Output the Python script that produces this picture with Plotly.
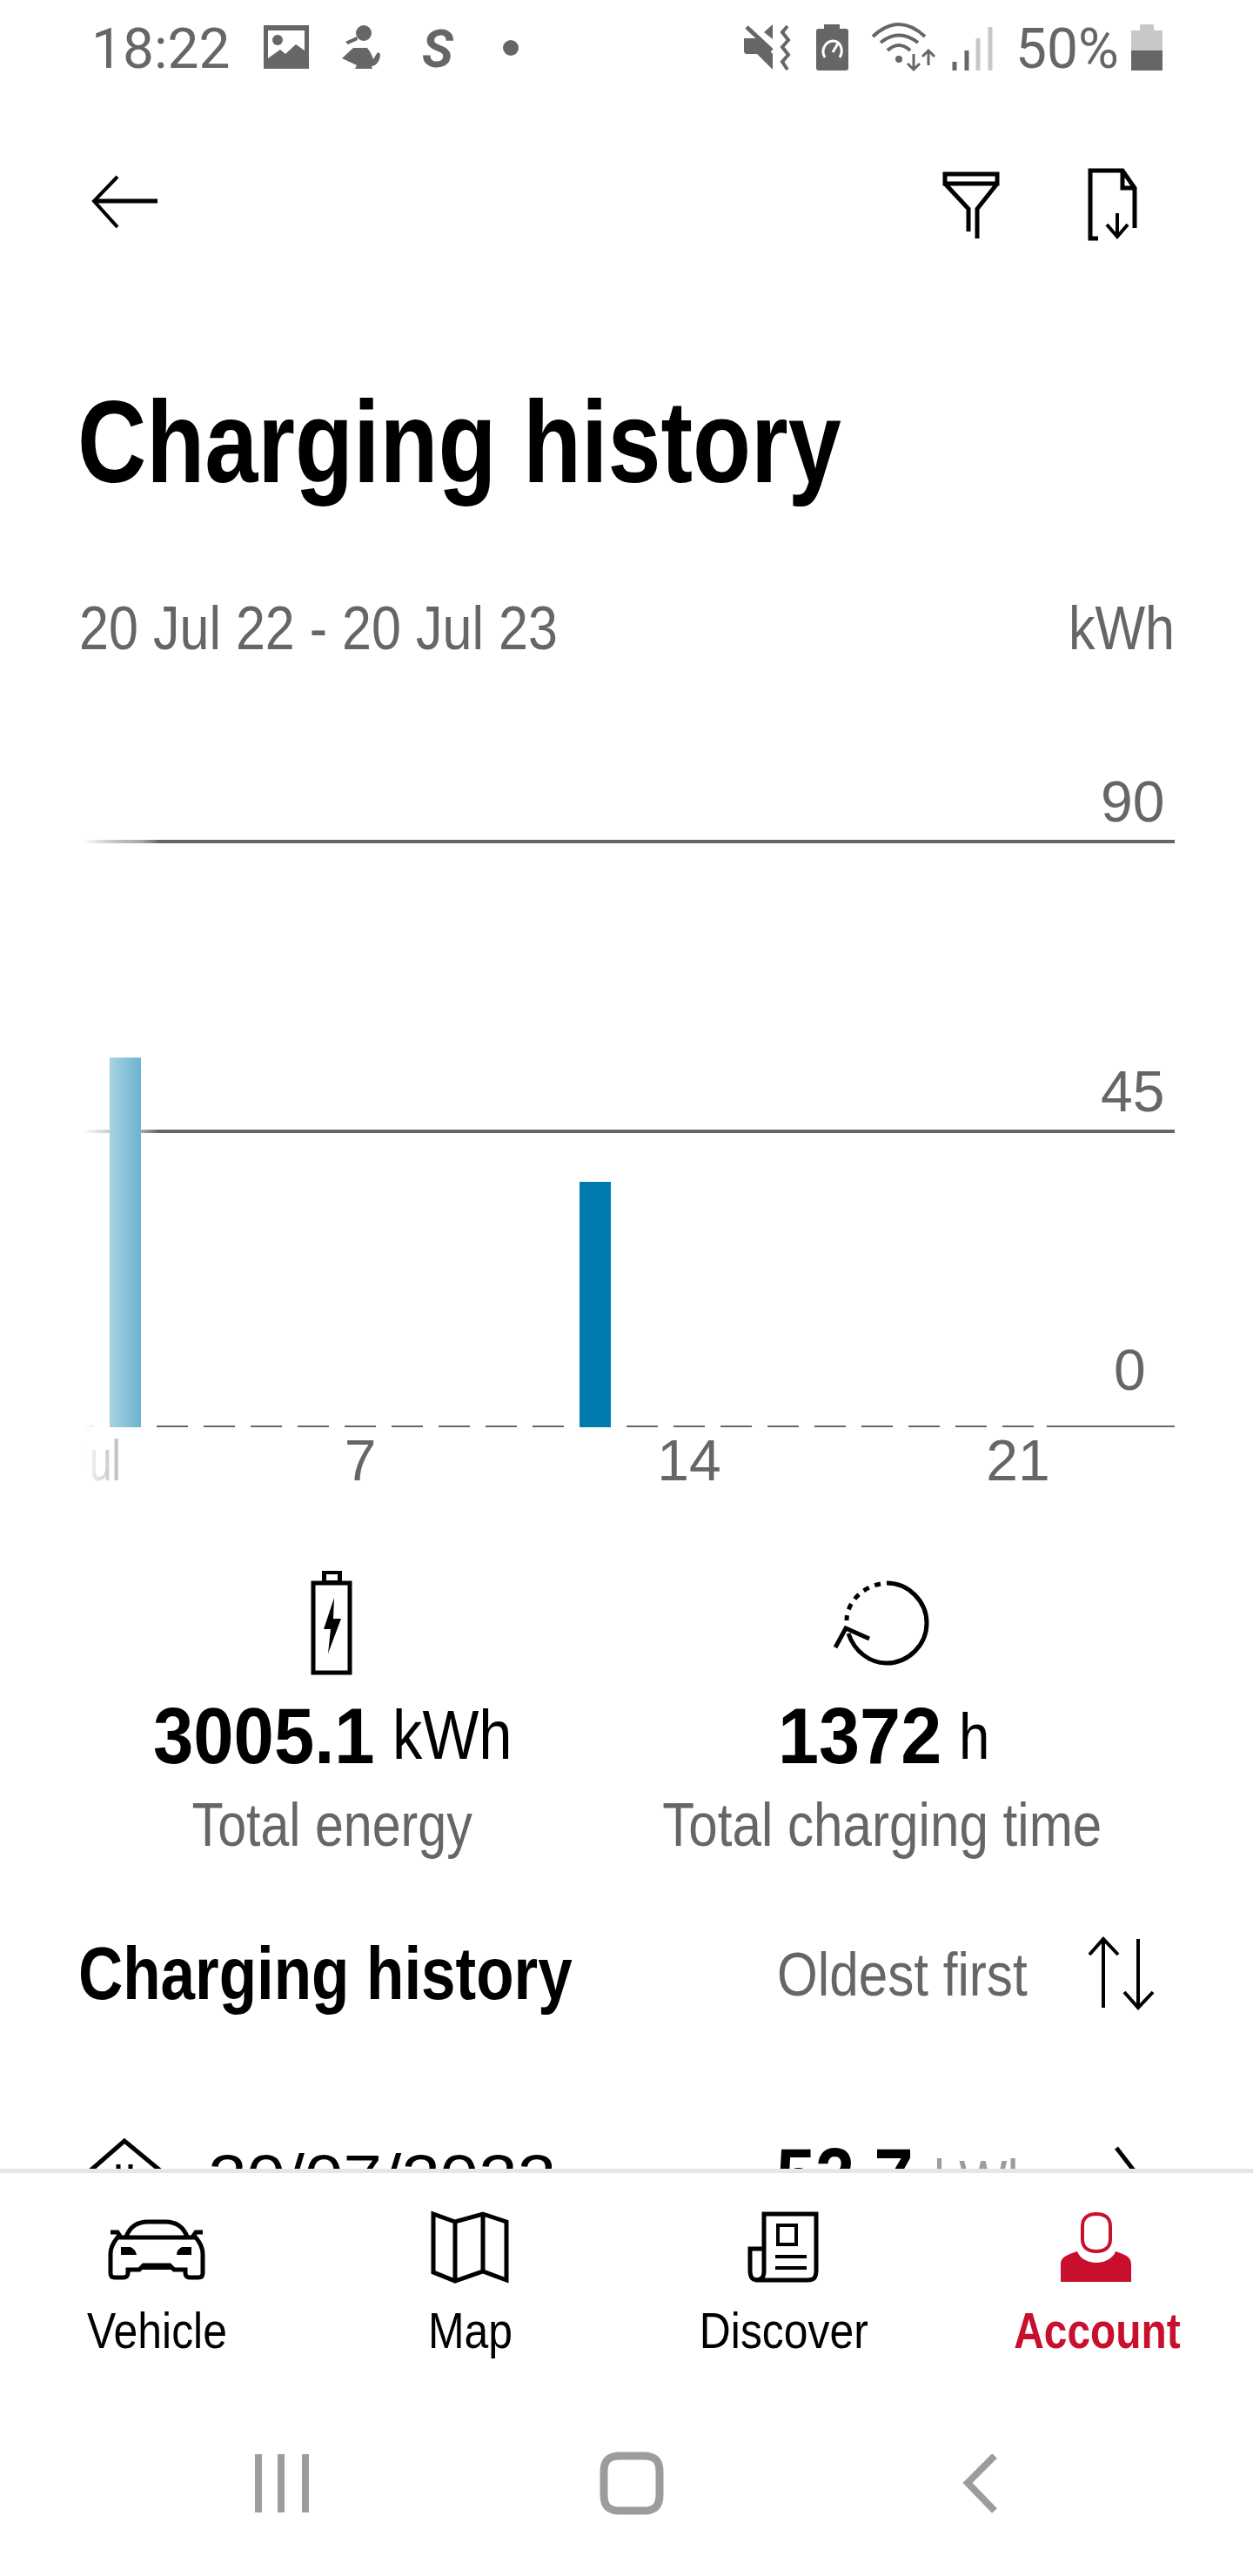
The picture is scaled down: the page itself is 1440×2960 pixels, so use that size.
import json

import numpy as np
import plotly.graph_objects as go

# chart data
days = list(range(1, 22))
kwh = [0, 56.8, 0, 0, 0, 0, 0, 0, 0, 0, 0, 37.7, 0, 0, 0, 0, 0, 0, 0, 0, 0]
x_ticks = [1, 7, 14, 21]
x_labels = ["1 Jul", "7", "14", "21"]
# the middle line sits slightly high in the screenshot, 45 is drawn where it shows
grid_values = [45.5, 90]
y_label_values = [90, 45.5, 0]
y_label_texts = ["90", "45", "0"]

# screen text
date_range = "20 Jul 22 - 20 Jul 23"
total_energy = "3005.1"
total_time = "1372"
nav_labels = ["Vehicle", "Map", "Discover"]

GREY = "#666666"
LIGHT = "#c8c8c8"
NAV = "#9c9c9c"
BLUE = "#007bae"
RED = "#c8102e"
BLACK = "#000000"
BODY = "Liberation Sans, sans-serif"
STATUS = "Roboto, sans-serif"

# no narrow font is installed, these widths squeeze the text after drawing
# default is 0.86 for regular and 0.825 for bold
width_scale = {"90": 1, "45": 1, "0": 1, "7": 1, "14": 1, "21": 1, "1 Jul": 0.7,
               "3005.1": 0.925, "1372": 0.94, "20/07/2022": 1.11, "52.7": 0.9,
               "Total energy": 0.845}

annotations = []
shapes = []


def label(text, x, baseline, size, color=BLACK, anchor="left", weight=400, family=BODY, style="normal"):
    annotations.append(dict(
        text=text, x=x, y=baseline - 0.35 * size, xref="x2", yref="y2",
        xanchor=anchor, yanchor="middle", showarrow=False, borderpad=0,
        font=dict(family=family, size=size, color=color, weight=weight, style=style),
    ))


def stroke(path, color=BLACK, width=5, dash="solid"):
    shapes.append(dict(type="path", path=path, xref="x2", yref="y2", layer="above",
                       line=dict(color=color, width=width, dash=dash)))


def fill(path, color=GREY):
    shapes.append(dict(type="path", path=path, xref="x2", yref="y2", layer="above",
                       fillcolor=color, line=dict(width=0)))


def circle(cx, cy, r, color=GREY):
    shapes.append(dict(type="circle", xref="x2", yref="y2", layer="above",
                       x0=cx - r, x1=cx + r, y0=cy - r, y1=cy + r,
                       fillcolor=color, line=dict(width=0)))


def box(x0, y0, x1, y1, color="#ffffff", opacity=1.0):
    shapes.append(dict(type="rect", xref="x2", yref="y2", layer="above",
                       x0=x0, x1=x1, y0=y0, y1=y1, fillcolor=color,
                       opacity=opacity, line=dict(width=0)))


fig = go.Figure()

# dashes of the zero line, one per empty day
dash_x = []
dash_y = []
for d, v in zip(days, kwh):
    if v == 0:
        dash_x += [d - 1 / 3, d + 1 / 3, None]
        dash_y += [0, 0, None]
fig.add_trace(go.Scatter(x=dash_x, y=dash_y, mode="lines", line=dict(color=GREY, width=4),
                         hoverinfo="skip", showlegend=False, cliponaxis=False))
fig.add_trace(go.Scatter(x=[21.61, 24.34], y=[0, 0], mode="lines", line=dict(color=GREY, width=4),
                         hoverinfo="skip", showlegend=False, cliponaxis=False))
fig.add_trace(go.Bar(x=days, y=kwh, width=2 / 3, marker=dict(color=BLUE, line=dict(width=0)),
                     hoverinfo="skip", showlegend=False))

# list row hidden behind the bottom bar, clipped by the white footer shape
row = [("20/07/2022", 239, 2534, 72, BLACK, 400),
       ("52.7", 892, 2541, 90, BLACK, 700),
       ("kWh", 1073, 2537, 68, NAV, 400)]
for text, x, baseline, size, color, weight in row:
    fig.add_trace(go.Scatter(x=[x], y=[baseline - 0.35 * size], xaxis="x2", yaxis="y2", mode="text",
                             text=[text], textposition="middle right", hoverinfo="skip", showlegend=False,
                             textfont=dict(family=BODY, size=size, color=color, weight=weight)))

# fade at the left edge of the scrolling chart
box(0, 950, 93, 1720)
box(93, 1650, 99, 1720)
edges = np.arange(93, 180, 3)
for e in edges:
    box(e, 950, e + 3, 1720, opacity=float(np.interp(e, [93, 126, 162, 180], [1.0, 0.65, 0.41, 0.05])))

# y labels sit above their lines
for v, t in zip(y_label_values, y_label_texts):
    right = 1318 if v == 0 else 1339
    gap = 43 if v == 0 else 23
    annotations.append(dict(
        text=t, x=right, y=v, xref="x2", yref="y", xanchor="right", yanchor="middle",
        yshift=gap + 0.35 * 66, showarrow=False, borderpad=0,
        font=dict(family=BODY, size=66, color=GREY),
    ))

# status bar
label("18:22", 104, 79, 64, GREY, family=STATUS)
label("50%", 1166, 79, 64, GREY, family=STATUS)
label("S", 484, 77, 60, GREY, weight=700, style="italic", family=STATUS)
box(303, 29, 355, 79, GREY)
fill("M308,35 H350 V58 L340,51 L328,62 L322,57 L308,67 Z", "#ffffff")
circle(319, 46, 6)
circle(418, 38, 9)
fill("M397,48 L410,42 L411,46 L400,51 Z")
fill("M393,67 L406,55 H422 C426,60 428,65 429,68 L434,60 L437,62 C437,70 432,76 427,76 L428,79 H408 L410,75 Z")
circle(587, 55, 9)
fill("M855,44 H872 L888,62 V80 L870,62 H858 Q855,62 855,58 Z")
fill("M878,37 L888,28 V45 Z")
stroke("M858,31 L887,58", GREY, 5)
stroke("M905,30 L899,37 L906,46 L899,54 L906,63 L899,71 L905,80", GREY, 4)
fill("M947,28 H965 V33 H972 Q975,33 975,36 V78 Q975,81 972,81 H941 Q938,81 938,78 V36 Q938,33 941,33 H947 Z")
stroke("M948,66 C943,58 948,48 957,47 C966,47 970,58 965,66", "#ffffff", 3)
stroke("M957,60 L963,50", "#ffffff", 3)
stroke("M1003,42 Q1033,14 1063,42", GREY, 4)
stroke("M1012,49 Q1033,32 1055,49", GREY, 4)
stroke("M1020,58 Q1033,46 1046,58", GREY, 4)
circle(1033, 68, 4)
stroke("M1050,62 V80 M1043,73 L1050,80 L1057,73", GREY, 3)
stroke("M1067,75 V59 M1060,65 L1067,58 L1074,65", GREY, 3)
for bx, top, col in [(1097, 71, GREY), (1111, 58, GREY), (1124, 44, LIGHT), (1138, 31, LIGHT)]:
    box(bx - 2.5, top, bx + 2.5, 81, col)
box(1310, 28, 1326, 36, LIGHT)
box(1300, 35, 1336, 58, LIGHT)
box(1300, 58, 1336, 81, GREY)

# header icons
stroke("M181,231 H110")
stroke("M135,203 L108,231 L135,261", BLACK, 4)
stroke("M1086,200 H1146 V211 H1086 Z M1086,211 L1113,240 V266 M1146,211 L1123,240 V274")
stroke("M1262,274 H1253 V196 H1290 L1304,216 V262 M1290,196 V216 H1304")
stroke("M1284,245 V272 M1272,258 L1284,272 L1296,258", BLACK, 4)

# page text
label("Charging history", 88, 555, 133, weight=700)
label(date_range, 90, 746, 71, GREY)
label("kWh", 1351, 746, 71, GREY, anchor="right")

# totals
box(370, 1805, 393, 1819, BLACK)
box(375, 1809, 388, 1816, "#ffffff")
stroke("M360,1819 H402 V1922 H360 Z")
fill("M384,1836 L372,1872 H380 L377,1900 L392,1860 H383 Z", BLACK)
stroke("M1019,1819 C1044,1819 1065,1840 1065,1865 C1065,1890 1044,1911 1019,1911 C1000,1911 982,1898 975,1877")
stroke("M1012,1820 C990,1824 973,1842 973,1862", BLACK, 5, "7px,7px")
stroke("M960,1893 L972,1871 L999,1883")
label(total_energy, 175, 2026, 90, weight=700)
label("kWh", 450, 2021, 80)
label(total_time, 893, 2026, 90, weight=700)
label("h", 1101, 2021, 74)
label("Total energy", 381, 2121, 70, GREY, anchor="center")
label("Total charging time", 1014, 2121, 70, GREY, anchor="center")

# list header
label("Charging history", 89, 2297, 86, weight=700)
label("Oldest first", 892, 2293, 70, GREY)
stroke("M1268,2230 V2307 M1252,2246 L1268,2228 L1285,2246", BLACK, 4)
stroke("M1308,2228 V2305 M1292,2289 L1308,2307 L1325,2289", BLACK, 4)

# row icons, then footer over the row
stroke("M104,2494 L143,2460 L184,2494 M136,2487 V2494 M150,2487 V2494")
stroke("M1283,2468 L1303,2494")
box(0, 2492, 1440, 2960)
box(0, 2492, 1440, 2497, "#e6e6e6")

# car
stroke("M135,2571 C130,2577 127,2582 127,2590 V2612 C127,2616 129,2617 132,2617 H142 C145,2617 147,2615 147,2612 "
       "V2608 H160 L165,2603 H195 L200,2608 H213 V2612 C213,2615 215,2617 218,2617 H228 C231,2617 233,2616 233,2612 "
       "V2590 C233,2582 230,2577 225,2571 Z")
stroke("M145,2570 C150,2557 160,2553 170,2553 H190 C200,2553 210,2557 215,2570")
stroke("M127,2565 H135 L139,2571 M233,2565 H225 L221,2571")
fill("M139,2582 H150 Q156,2585 157,2591 H139 Z", BLACK)
fill("M220,2582 H209 Q203,2585 203,2591 H220 Z", BLACK)
fill("M158,2608 L165,2602 H195 L202,2608 Z", BLACK)
# map
stroke("M498,2544 L523,2553 L555,2544 L582,2553 V2620 L555,2610 L523,2621 L498,2611 Z M523,2553 V2621 M555,2544 V2610")
# discover
stroke("M878,2582 V2544 H938 V2608 C938,2618 935,2620 928,2620 H872 C865,2620 862,2618 862,2608 V2584 H878 V2610 C878,2618 874,2620 868,2620")
stroke("M894,2557 H915 V2579 H894 Z", BLACK, 4)
box(891, 2591, 927, 2595, BLACK)
box(891, 2604, 927, 2608, BLACK)
# account
stroke("M1244,2558 C1244,2549 1250,2544 1260,2544 C1270,2544 1276,2549 1276,2558 V2573 C1276,2582 1270,2587 1260,2587 C1250,2587 1244,2582 1244,2573 Z", RED, 4)
fill("M1219,2622 V2602 C1219,2594 1225,2591 1238,2587 C1241,2595 1250,2600 1260,2600 C1270,2600 1279,2595 1282,2587 C1295,2591 1300,2594 1300,2602 V2622 Z", RED)

for text, cx in zip(nav_labels, [180, 540, 901]):
    label(text, cx, 2698, 58, anchor="center")
label("Account", 1261, 2698, 58, RED, anchor="center", weight=700)

# android buttons
for bx in [297, 323, 351]:
    box(bx - 4, 2820, bx + 4, 2887, NAV)
stroke("M712,2822 H740 C753,2822 758,2828 758,2840 V2867 C758,2879 753,2885 740,2885 H712 C699,2885 694,2879 694,2867 V2840 C694,2828 699,2822 712,2822 Z", NAV, 9)
stroke("M1143,2822 L1112,2853 L1143,2885", NAV, 8)

fig.update_layout(
    width=1440, height=2960, margin=dict(l=0, r=0, t=0, b=0),
    paper_bgcolor="#ffffff", plot_bgcolor="rgba(0,0,0,0)",
    showlegend=False, shapes=shapes, annotations=annotations,
    # 54 px per day
    xaxis=dict(domain=[0, 1350 / 1440], range=[-2 / 3, 24.333], tickmode="array",
               tickvals=x_ticks, ticktext=x_labels, showgrid=False, zeroline=False,
               showline=False, ticks="", ticklabelstandoff=-6,
               tickfont=dict(family=BODY, size=66, color=GREY)),
    yaxis=dict(domain=[(2960 - 1640) / 2960, (2960 - 892) / 2960], range=[0, 100], tickmode="array",
               tickvals=grid_values, showgrid=True, gridcolor=GREY, gridwidth=4,
               zeroline=False, showline=False, showticklabels=False, ticks=""),
    xaxis2=dict(domain=[0, 1], range=[0, 1440], visible=False, anchor="y2"),
    yaxis2=dict(domain=[0, 1], range=[2960, 0], visible=False, anchor="x2"),
)

squeeze_js = """
document.body.style.margin = '0';
var gd = document.getElementById('{plot_id}');
var scales = %s;
function squeeze(t, anchor) {
    if (!t || !t.style.fontFamily.includes('Liberation')) return;
    var txt = t.textContent;
    var k = txt in scales ? scales[txt] : (parseInt(t.style.fontWeight) >= 600 ? 0.825 : 0.86);
    var b = t.getBBox();
    var ax = anchor === 'left' ? b.x : anchor === 'right' ? b.x + b.width : b.x + b.width / 2;
    var old = t.getAttribute('transform') || '';
    t.setAttribute('transform', old + ' translate(' + ax + ' 0) scale(' + k + ' 1) translate(' + (-ax) + ' 0)');
}
gd.querySelectorAll('.annotation').forEach(function (a) {
    var i = parseInt(a.getAttribute('data-index'));
    squeeze(a.querySelector('text'), gd.layout.annotations[i].xanchor);
});
gd.querySelectorAll('.textpoint text').forEach(function (t) { squeeze(t, 'left'); });
gd.querySelectorAll('.xtick text').forEach(function (t) { squeeze(t, 'center'); });
""" % json.dumps(width_scale)

fig.write_html("out.html", config={"displayModeBar": False}, post_script=squeeze_js)
